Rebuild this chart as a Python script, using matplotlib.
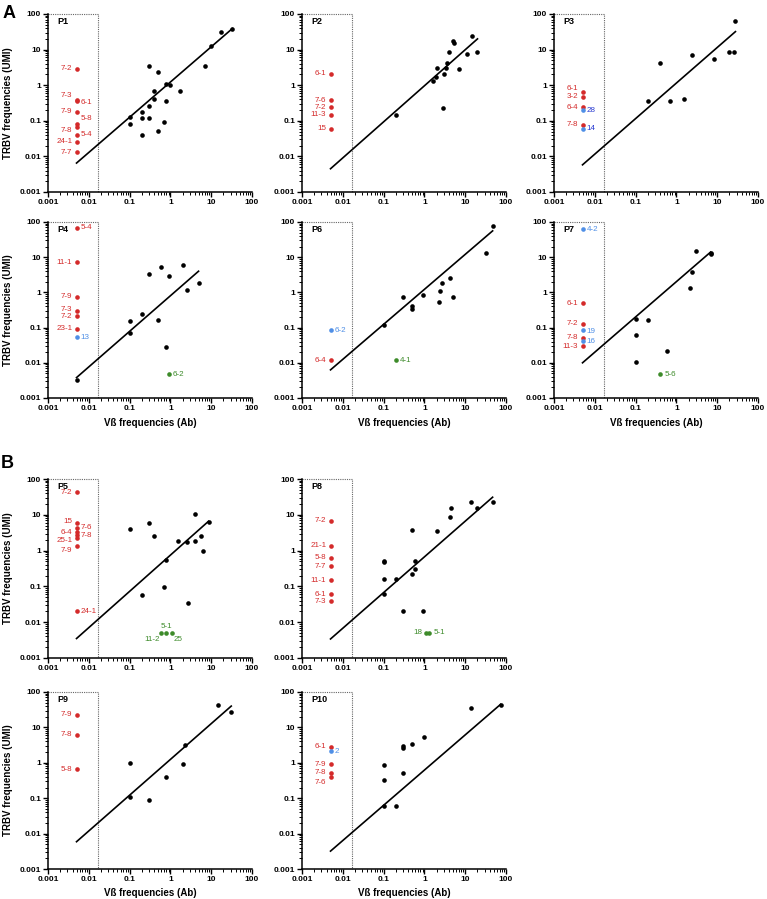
import matplotlib
matplotlib.use("Agg")
import matplotlib.pyplot as plt
from matplotlib.ticker import LogLocator, NullFormatter

plt.rcParams["font.family"] = ["Liberation Sans", "DejaVu Sans"]

RED = "#d42a2a"
GREEN = "#3d8b2a"
BLUE = "#4f8fe6"
DARKBLUE = "#2537d0"

ND = 0.005  # x value used for V-betas not covered by the antibody panel

# ---- P1
p1_x = [0.3, 0.5, 0.8, 1.0, 0.4, 0.4, 1.7, 0.8, 0.3, 0.2, 0.2, 0.3, 0.1, 0.1, 0.7, 0.5, 0.2, 7, 10, 17, 33]
p1_y = [3.4, 2.4, 1.1, 1.0, 0.7, 0.42, 0.7, 0.37, 0.26, 0.18, 0.12, 0.12, 0.13, 0.08, 0.093, 0.053, 0.04, 3.5, 13, 32, 39]
p1_fit_x = [0.005, 33]
p1_fit_y = [0.0065, 39]
p1_red = ["7-2", "7-3", "6-1", "7-9", "5-8", "7-8", "5-4", "24-1", "7-7"]
p1_red_y = [2.9, 0.38, 0.35, 0.18, 0.08, 0.065, 0.041, 0.026, 0.013]

# ---- P2
p2_x = [0.2, 1.6, 1.9, 2.0, 3.0, 3.3, 3.5, 3.9, 5.1, 5.4, 6.9, 11, 15, 20, 2.8]
p2_y = [0.145, 1.3, 1.75, 3.1, 2.1, 3.0, 4.1, 8.5, 18, 15, 2.9, 7.4, 24, 8.7, 0.23]
p2_fit_x = [0.005, 20]
p2_fit_y = [0.0045, 20]
p2_red = ["6-1", "7-6", "7-2", "11-3", "15"]
p2_red_y = [2.1, 0.38, 0.24, 0.148, 0.059]

# ---- P3
p3_x = [0.2, 0.4, 0.7, 1.5, 2.4, 8.3, 19.5, 26, 28]
p3_y = [0.37, 4.2, 0.37, 0.42, 6.9, 5.4, 8.6, 8.6, 65]
p3_fit_x = [0.005, 28]
p3_fit_y = [0.0058, 32]
p3_red = ["6-1", "3-2", "6-4", "7-8"]
p3_red_y = [0.66, 0.47, 0.24, 0.078]
p3_blue = ["28", "14"]
p3_blue_y = [0.2, 0.059]

# ---- P4
p4_x = [0.005, 0.1, 0.1, 0.2, 0.3, 0.5, 0.6, 0.9, 0.8, 2.0, 2.5, 4.9]
p4_y = [0.0033, 0.068, 0.15, 0.25, 3.4, 0.16, 5.4, 3.0, 0.028, 6.0, 1.15, 1.8]
p4_fit_x = [0.005, 4.9]
p4_fit_y = [0.0038, 4.0]
p4_red = ["5-4", "11-1", "7-9", "7-3", "7-2", "23-1"]
p4_red_y = [68, 7.2, 0.76, 0.29, 0.22, 0.093]
p4_blue = ["13"]
p4_blue_y = [0.053]
p4_green = ["6-2"]
p4_green_x = [0.9]
p4_green_y = [0.0047]

# ---- P6
p6_x = [0.1, 0.3, 0.5, 0.5, 0.9, 2.3, 2.4, 2.7, 4.2, 5.0, 32, 47]
p6_y = [0.12, 0.75, 0.42, 0.34, 0.85, 0.53, 1.1, 1.8, 2.6, 0.75, 13, 76]
p6_fit_x = [0.005, 47]
p6_fit_y = [0.0063, 56]
p6_red = ["6-4"]
p6_red_y = [0.012]
p6_blue = ["6-2"]
p6_blue_y = [0.085]
p6_green = ["4-1"]
p6_green_x = [0.2]
p6_green_y = [0.012]

# ---- P7
p7_x = [0.1, 0.1, 0.1, 0.2, 0.6, 2.1, 2.4, 3.0, 7.0, 7.2]
p7_y = [0.17, 0.062, 0.0105, 0.16, 0.021, 1.35, 3.9, 15.5, 13, 12]
p7_fit_x = [0.005, 6.9]
p7_fit_y = [0.01, 14]
p7_red = ["6-1", "7-2", "7-8", "11-3"]
p7_red_y = [0.49, 0.13, 0.052, 0.031]
p7_blue = ["4-2", "19", "16"]
p7_blue_y = [62, 0.083, 0.041]
p7_green = ["5-6"]
p7_green_x = [0.4]
p7_green_y = [0.0047]

# ---- P5
p5_x = [0.1, 0.3, 0.4, 0.2, 0.7, 0.8, 1.5, 2.5, 4.0, 4.0, 5.5, 6.4, 9.0, 2.7]
p5_y = [4.0, 5.9, 2.5, 0.059, 0.096, 0.56, 1.9, 1.7, 1.9, 10.5, 2.6, 1.0, 6.2, 0.034]
p5_fit_x = [0.005, 8.6]
p5_fit_y = [0.0035, 6.6]
p5_red = ["7-2", "15", "7-6", "6-4", "7-8", "25-1", "7-9", "24-1"]
p5_red_y = [42, 5.9, 4.3, 3.3, 2.7, 2.2, 1.35, 0.02]
p5_green = ["11-2", "5-1", "25"]
p5_green_x = [0.6, 0.8, 1.1]
p5_green_y = [0.005, 0.005, 0.005]

# ---- P8
p8_x = [0.1, 0.1, 0.1, 0.1, 0.2, 0.3, 0.5, 0.5, 0.6, 0.6, 0.9, 2.0, 4.2, 4.5, 14, 19, 47]
p8_y = [0.51, 0.47, 0.16, 0.06, 0.16, 0.02, 3.7, 0.22, 0.51, 0.31, 0.02, 3.6, 8.5, 15, 23, 15, 23]
p8_fit_x = [0.005, 47]
p8_fit_y = [0.0034, 31]
p8_red = ["7-2", "21-1", "5-8", "7-7", "11-1", "6-1", "7-3"]
p8_red_y = [6.8, 1.35, 0.63, 0.37, 0.15, 0.06, 0.039]
p8_green = ["18", "5-1"]
p8_green_x = [1.1, 1.3]
p8_green_y = [0.005, 0.005]

# ---- P9
p9_x = [0.1, 0.1, 0.3, 0.8, 2.0, 2.3, 15, 30]
p9_y = [1.0, 0.107, 0.09, 0.39, 0.95, 3.2, 42, 27]
p9_fit_x = [0.005, 31]
p9_fit_y = [0.0059, 40]
p9_red = ["7-9", "7-8", "5-8"]
p9_red_y = [23, 6.3, 0.65]

# ---- P10
p10_x = [0.1, 0.1, 0.1, 0.2, 0.3, 0.3, 0.3, 0.5, 1.0, 14, 74]
p10_y = [0.86, 0.32, 0.06, 0.059, 3.0, 2.6, 0.51, 3.3, 5.5, 36, 43]
p10_fit_x = [0.005, 74]
p10_fit_y = [0.0032, 45]
p10_red = ["6-1", "7-9", "7-8", "7-6"]
p10_red_y = [2.8, 0.91, 0.5, 0.39]
p10_blue = ["2"]
p10_blue_y = [2.1]

TICKS = [0.001, 0.01, 0.1, 1, 10, 100]
TICK_LABELS = ["0.001", "0.01", "0.1", "1", "10", "100"]

# label placement: side -> (dx, dy, ha, va) in points
OFFS = {
    "l": (-3, 0, "right", "center"),
    "r": (3, 0, "left", "center"),
    "a": (0, 2.5, "center", "bottom"),
    "bl": (-1, -2.5, "right", "top"),
    "br": (1, -2.5, "left", "top"),
}


def outliers(ax, xs, ys, labels, sides, color, tcolor=None, nudge=None):
    ax.scatter(xs, ys, s=11, color=color, zorder=4, clip_on=False, linewidths=0)
    for i, (x, y, lab) in enumerate(zip(xs, ys, labels)):
        dx, dy, ha, va = OFFS[sides[i]]
        if nudge and lab in nudge:
            dy += nudge[lab]
        ax.annotate(lab, (x, y), xytext=(dx, dy), textcoords="offset points",
                    ha=ha, va=va, fontsize=5.8, color=tcolor or color)


def setup(ax, name, xlabel=False, ylabel=False):
    ax.set_xscale("log")
    ax.set_yscale("log")
    ax.set_xlim(0.001, 100)
    ax.set_ylim(0.001, 100)
    for s in ["top", "right"]:
        ax.spines[s].set_visible(False)
    for s in ["left", "bottom"]:
        ax.spines[s].set_linewidth(1.1)
    ax.set_xticks(TICKS)
    ax.set_xticklabels(TICK_LABELS)
    ax.set_yticks(TICKS)
    ax.set_yticklabels(TICK_LABELS)
    ax.xaxis.set_minor_locator(LogLocator(base=10, subs=range(2, 10), numticks=20))
    ax.yaxis.set_minor_locator(LogLocator(base=10, subs=range(2, 10), numticks=20))
    ax.xaxis.set_minor_formatter(NullFormatter())
    ax.yaxis.set_minor_formatter(NullFormatter())
    ax.tick_params(which="major", length=3.5, width=1.0, pad=1.5, direction="out")
    ax.tick_params(which="minor", length=2, width=0.7, direction="out")
    for t in ax.get_xticklabels() + ax.get_yticklabels():
        t.set_fontsize(6)
        t.set_fontweight("bold")
    # dotted box marking V-betas without antibody
    ax.plot([0.001, 0.0165, 0.0165], [100, 100, 0.001], ls=(0, (1, 1)),
            color="#666666", lw=0.8, clip_on=False, zorder=1)
    ax.text(0.045, 0.985, name, transform=ax.transAxes, ha="left", va="top",
            fontsize=6.5, fontweight="bold")
    if xlabel:
        ax.set_xlabel("V\u00df frequencies (Ab)", fontsize=7, fontweight="bold", labelpad=4)
    if ylabel:
        ax.set_ylabel("TRBV frequencies (UMI)", fontsize=7, fontweight="bold")
        ax.yaxis.set_label_coords(-0.17, 0.5)


W, H = 767, 899
fig = plt.figure(figsize=(W / 100, H / 100), dpi=100)

col_left = [48, 302, 554]
rows = [(14, 192), (222, 398), (479, 658), (692, 869)]


def make_ax(r, c):
    top, bot = rows[r]
    return fig.add_axes([col_left[c] / W, 1 - bot / H, 204 / W, (bot - top) / H])


def base(ax, x, y, fx, fy):
    ax.scatter(x, y, s=11, color="black", zorder=3, clip_on=False, linewidths=0)
    ax.plot(fx, fy, color="black", lw=1.2, zorder=2, clip_on=False)


# P1
ax = make_ax(0, 0)
setup(ax, "P1", ylabel=True)
base(ax, p1_x, p1_y, p1_fit_x, p1_fit_y)
outliers(ax, [ND] * len(p1_red), p1_red_y, p1_red, ["l", "l", "r", "l", "r", "l", "r", "l", "l"], RED,
         nudge={"7-3": 3, "6-1": -1, "5-8": 4, "7-8": -2})

# P2
ax = make_ax(0, 1)
setup(ax, "P2")
base(ax, p2_x, p2_y, p2_fit_x, p2_fit_y)
outliers(ax, [ND] * len(p2_red), p2_red_y, p2_red, ["l"] * 5, RED)

# P3
ax = make_ax(0, 2)
setup(ax, "P3")
base(ax, p3_x, p3_y, p3_fit_x, p3_fit_y)
outliers(ax, [ND] * len(p3_red), p3_red_y, p3_red, ["l"] * 4, RED, nudge={"6-1": 2})
outliers(ax, [ND] * len(p3_blue), p3_blue_y, p3_blue, ["r", "r"], BLUE, tcolor=DARKBLUE)

# P4
ax = make_ax(1, 0)
setup(ax, "P4", xlabel=True, ylabel=True)
base(ax, p4_x, p4_y, p4_fit_x, p4_fit_y)
outliers(ax, [ND] * len(p4_red), p4_red_y, p4_red, ["r", "l", "l", "l", "l", "l"], RED,
         nudge={"7-3": 1, "7-2": -1})
outliers(ax, [ND] * len(p4_blue), p4_blue_y, p4_blue, ["r"], BLUE)
outliers(ax, p4_green_x, p4_green_y, p4_green, ["r"], GREEN)

# P6
ax = make_ax(1, 1)
setup(ax, "P6", xlabel=True)
base(ax, p6_x, p6_y, p6_fit_x, p6_fit_y)
outliers(ax, [ND] * len(p6_red), p6_red_y, p6_red, ["l"], RED)
outliers(ax, [ND] * len(p6_blue), p6_blue_y, p6_blue, ["r"], BLUE)
outliers(ax, p6_green_x, p6_green_y, p6_green, ["r"], GREEN)

# P7
ax = make_ax(1, 2)
setup(ax, "P7", xlabel=True)
base(ax, p7_x, p7_y, p7_fit_x, p7_fit_y)
outliers(ax, [ND] * len(p7_red), p7_red_y, p7_red, ["l"] * 4, RED, nudge={"11-3": -1})
outliers(ax, [ND] * len(p7_blue), p7_blue_y, p7_blue, ["r"] * 3, BLUE, nudge={"19": -1})
outliers(ax, p7_green_x, p7_green_y, p7_green, ["r"], GREEN)

# P5
ax = make_ax(2, 0)
setup(ax, "P5", ylabel=True)
base(ax, p5_x, p5_y, p5_fit_x, p5_fit_y)
outliers(ax, [ND] * len(p5_red), p5_red_y, p5_red, ["l", "l", "r", "l", "r", "l", "l", "r"], RED,
         nudge={"15": 1, "6-4": 0, "25-1": -1.5, "7-9": -3})
outliers(ax, p5_green_x, p5_green_y, p5_green, ["bl", "a", "br"], GREEN)

# P8
ax = make_ax(2, 1)
setup(ax, "P8")
base(ax, p8_x, p8_y, p8_fit_x, p8_fit_y)
outliers(ax, [ND] * len(p8_red), p8_red_y, p8_red, ["l"] * 7, RED)
outliers(ax, p8_green_x, p8_green_y, p8_green, ["l", "r"], GREEN)

# P9
ax = make_ax(3, 0)
setup(ax, "P9", xlabel=True, ylabel=True)
base(ax, p9_x, p9_y, p9_fit_x, p9_fit_y)
outliers(ax, [ND] * len(p9_red), p9_red_y, p9_red, ["l"] * 3, RED)

# P10
ax = make_ax(3, 1)
setup(ax, "P10", xlabel=True)
base(ax, p10_x, p10_y, p10_fit_x, p10_fit_y)
outliers(ax, [ND] * len(p10_red), p10_red_y, p10_red, ["l"] * 4, RED, nudge={"7-6": -4, "7-8": 1})
outliers(ax, [ND] * len(p10_blue), p10_blue_y, p10_blue, ["r"], BLUE)

fig.text(9 / W, 1 - 14 / H, "A", fontsize=13, fontweight="bold", ha="center", va="center")
fig.text(7 / W, 1 - 463 / H, "B", fontsize=13, fontweight="bold", ha="center", va="center")

fig.savefig("out.png", dpi=100)
